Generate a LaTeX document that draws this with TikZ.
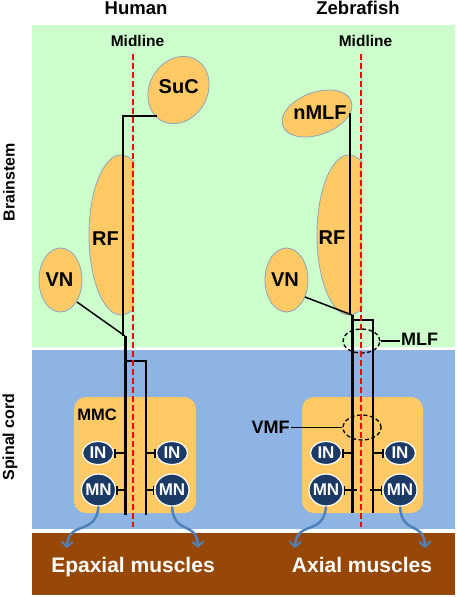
\documentclass[tikz,border=0pt]{standalone}
\usepackage{fontspec}
\setmainfont{Liberation Sans}
\usetikzlibrary{shapes.geometric,arrows.meta}
\definecolor{greenbg}{HTML}{CCFFCC}
\definecolor{bluebg}{HTML}{8DB4E2}
\definecolor{brownbg}{HTML}{984806}
\definecolor{orangec}{HTML}{FFC966}
\definecolor{ellborder}{HTML}{8FA5BC}
\definecolor{navy}{HTML}{1B3A66}
\definecolor{arrowblue}{HTML}{4F81BD}
\newcommand{\fs}[1]{\fontsize{#1}{#1}\selectfont\bfseries}
\tikzset{
  orangeell/.style={fill=orangec,draw=ellborder,line width=0.8pt},
  orangenode/.style={orangeell,shape=ellipse,inner sep=0pt},
  neuron/.style={shape=ellipse,fill=navy,draw=white,line width=1.2pt,inner sep=0pt,text=white,font=\fs{17}},
  lab/.style={font=\fs{20},inner sep=0pt},
  axon/.style={draw=black,line width=1.5pt},
  thickaxon/.style={draw=black,line width=3pt},
  medaxon/.style={draw=black,line width=2pt},
  syn/.style={draw=black,line width=1.5pt,-{Bar[width=9pt,line width=1.5pt]}},
  midl/.style={draw=red,line width=2.2pt,dash pattern=on 6pt off 3pt},
  dashell/.style={shape=ellipse,draw=black,line width=1.3pt,dash pattern=on 4pt off 2.5pt,inner sep=0pt},
  musarrow/.style={draw=arrowblue,line width=2.5pt,-{Straight Barb[length=5pt,width=11pt,line width=2pt]}},
  mmcbox/.style={fill=orangec,rounded corners=12pt},
}
\begin{document}
\begin{tikzpicture}[x=1pt,y=-1pt]
\useasboundingbox (0,0) rectangle (457,597);
% panels
\fill[white] (0,0) rectangle (457,597);
\fill[greenbg] (32,25) rectangle (455,347);
\fill[bluebg] (32,350) rectangle (455,529);
\fill[brownbg] (32,533) rectangle (455,595);
% titles
\node[font=\fs{18.5},anchor=base] (tHuman) at (136,14) {Human};
\node[font=\fs{18.5},anchor=base] (tZebra) at (358,14) {Zebrafish};
\node[font=\fs{15.5},anchor=base] (mHuman) at (137.5,46.5) {Midline};
\node[font=\fs{15.5},anchor=base] (mZebra) at (365.5,46.5) {Midline};
\node[font=\fs{16},rotate=90] (tBrain) at (9,182) {Brainstem};
\node[font=\fs{16},rotate=90] (tSpinal) at (10,437) {Spinal cord};
% ---------- Human brainstem ----------
\begin{scope}
\clip (0,0) rectangle (134,597);
\path[orangeell] (121,235) ellipse [x radius=32, y radius=80];
\end{scope}
\node[lab] (hRF) at (105.5,238.5) {RF};
\node[orangenode,minimum width=43,minimum height=64] (hVN) at (60.5,280) {};
\node[lab] (hVNt) at (59.5,280) {VN};
\path[orangeell,rotate around={60:(178.5,90)}] (178.5,90) ellipse [x radius=35, y radius=29];
\node[lab] (hSuC) at (178.7,86.7) {SuC};
% ---------- Zebrafish brainstem ----------
\begin{scope}
\clip (0,0) rectangle (362,597);
\path[orangeell] (349,235) ellipse [x radius=32, y radius=80];
\end{scope}
\node[lab] (zRF) at (332,237.5) {RF};
\node[orangenode,minimum width=43,minimum height=64] (zVN) at (286.5,280) {};
\node[lab] (zVNt) at (285,279.5) {VN};
\path[orangeell,rotate around={20:(317,113.5)}] (317,113.5) ellipse [x radius=36.4, y radius=21.2];
\node[lab] (znMLF) at (320,112.5) {nMLF};
% ---------- MMC boxes ----------
\path[mmcbox] (74,397) rectangle (196,513);
\path[mmcbox] (302,397) rectangle (423,513);
\node[font=\fs{16.5}] (hMMC) at (97,415) {MMC};
% neurons
\node[neuron,minimum width=31,minimum height=23] (hINl) at (98,453) {\makebox[0pt]{IN}};
\node[neuron,minimum width=34,minimum height=32] (hMNl) at (98.5,490) {\makebox[0pt]{MN}};
\node[neuron,minimum width=31,minimum height=23] (hINr) at (172,453) {\makebox[0pt]{IN}};
\node[neuron,minimum width=34,minimum height=32] (hMNr) at (172,490) {\makebox[0pt]{MN}};
\node[neuron,minimum width=31,minimum height=23] (zINl) at (326,453) {\makebox[0pt]{IN}};
\node[neuron,minimum width=34,minimum height=32] (zMNl) at (326,490) {\makebox[0pt]{MN}};
\node[neuron,minimum width=31,minimum height=23] (zINr) at (400,453) {\makebox[0pt]{IN}};
\node[neuron,minimum width=34,minimum height=32] (zMNr) at (400,490) {\makebox[0pt]{MN}};
% ---------- Human pathways ----------
\coordinate (hS1) at (157,116);
\coordinate (hS2) at (123,116);
\coordinate (hJ) at (123,336);
\draw[axon] (hS1) -- (hS2) -- (hJ);
\coordinate (hV1) at (77,302);
\coordinate (hJ2) at (125,336);
\draw[axon] (hV1) -- (hJ2);
\coordinate (hB) at (125,515);
\draw[thickaxon] (hJ2) -- (hB);
\coordinate (hC1) at (125,361);
\coordinate (hC2) at (146,361);
\coordinate (hC3) at (146,515);
\draw[medaxon] (hC1) -- (hC2) -- (hC3);
\coordinate (hsy1) at (125,453);
\coordinate (hsy2) at (125,490);
\coordinate (hsy3) at (146,453);
\coordinate (hsy4) at (146,490);
\draw[syn] (hsy1) -- (hINl.east);
\draw[syn] (hsy2) -- (hMNl.east);
\draw[syn] (hsy3) -- (hINr.west);
\draw[syn] (hsy4) -- (hMNr.west);
% ---------- Zebrafish pathways ----------
\coordinate (zN1) at (350,113);
\coordinate (zN2) at (350,315);
\draw[axon] (zN1) -- (zN2);
\coordinate (zV1) at (305,297);
\coordinate (zJ) at (352,315);
\draw[axon] (zV1) -- (zJ);
\coordinate (zB) at (352,513);
\draw[thickaxon] (zJ) -- (zB);
\coordinate (zC1) at (352,320);
\coordinate (zC2) at (373,320);
\coordinate (zC3) at (373,513);
\draw[medaxon] (zC1) -- (zC2) -- (zC3);
\coordinate (zsy1) at (352,453);
\coordinate (zsy2) at (357,490);
\coordinate (zsy3) at (373,453);
\coordinate (zsy4) at (370,490);
\draw[syn] (zsy1) -- (zINl.east);
\draw[syn] (zsy2) -- (zMNl.east);
\draw[syn] (zsy3) -- (zINr.west);
\draw[syn] (zsy4) -- (zMNr.west);
% dashed ellipses and labels
\node[dashell,minimum width=37,minimum height=24] (zMLF) at (361.5,341) {};
\node[font=\fs{18},anchor=west,inner sep=1pt] (MLFlab) at (400,339) {MLF};
\draw[axon] (zMLF.east) -- (zMLF.east -| MLFlab.west);
\node[dashell,minimum width=38,minimum height=25] (zVMF) at (362,427.5) {};
\node[font=\fs{18},inner sep=1pt] (VMFlab) at (270.5,427) {VMF};
\draw[axon] (zVMF.west) -- (zVMF.west -| VMFlab.east);
% midlines
\coordinate (hM1) at (133.3,54);
\coordinate (hM2) at (133.3,527);
\coordinate (zM1) at (361.3,54);
\coordinate (zM2) at (361.3,527);
\draw[midl] (hM1) -- (hM2);
\draw[midl] (zM1) -- (zM2);
% muscle arrows
\coordinate (hA1) at (67,548);
\coordinate (hA2) at (198,548);
\coordinate (zA1) at (295,548);
\coordinate (zA2) at (425,548);
\draw[musarrow] (hMNl.south) .. controls (96,536) and (68,520) .. (hA1);
\draw[musarrow] (hMNr.south) .. controls (174,536) and (197,520) .. (hA2);
\draw[musarrow] (zMNl.south) .. controls (324,536) and (296,520) .. (zA1);
\draw[musarrow] (zMNr.south) .. controls (402,536) and (424,520) .. (zA2);
% muscle labels
\node[font=\fs{21},text=white,anchor=base] (hMus) at (133,572) {Epaxial muscles};
\node[font=\fs{21},text=white,anchor=base] (zMus) at (362,572) {Axial muscles};
\end{tikzpicture}
\end{document}
